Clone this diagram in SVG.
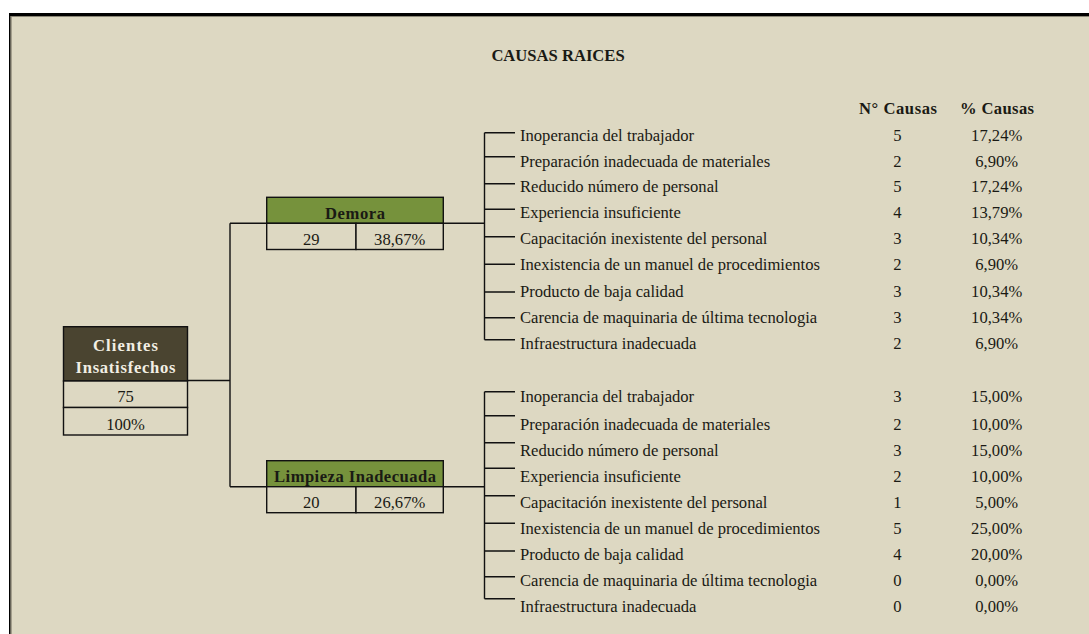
<svg xmlns="http://www.w3.org/2000/svg" width="1089" height="634" viewBox="0 0 1089 634">
  <style>
    .txt { font-family: "Liberation Serif", "Times New Roman", serif; font-size: 16.6px; fill: #1a1a14; }
    .b { font-weight: bold; }
    .c { text-anchor: middle; }
    .light { fill: #f2efe4; }
    .cell { fill: #ddd8c2; stroke: #111; stroke-width: 1.4; }
    .head-green { fill: #76923c; stroke: #111; stroke-width: 1.4; }
    .head-dark { fill: #4a4430; stroke: #111; stroke-width: 1.4; }
    .wire { fill: none; stroke: #111; stroke-width: 1.4; }
  </style>

  <!-- sheet background and frame -->
  <rect x="0" y="0" width="1089" height="634" fill="#ffffff"/>
  <rect x="10" y="15" width="1079" height="619" fill="#ddd8c2"/>
  <line x1="9" y1="14.5" x2="1089" y2="14.5" stroke="#000" stroke-width="3"/>
  <line x1="9.8" y1="13" x2="9.8" y2="634" stroke="#000" stroke-width="1.6"/>
  <line x1="11" y1="16.5" x2="1089" y2="16.5" stroke="#8a8676" stroke-width="1"/>
  <line x1="11.2" y1="16" x2="11.2" y2="634" stroke="#8a8676" stroke-width="1"/>

  <text class="txt b c" x="558" y="61">CAUSAS RAICES</text>

  <!-- connectors -->
  <g id="connectors">
    <path class="wire" d="M187.7 380.5 H230 M230 223.3 V486.7 M230 223.3 H484.5 M230 486.7 H484.5"/>
    <path class="wire" d="M484.5 132.7 V339.7
      M484.5 132.7 H515 M484.5 156.7 H515 M484.5 183.7 H515 M484.5 209.3 H515 M484.5 236.7 H515
      M484.5 264.3 H515 M484.5 292 H515 M484.5 317.7 H515 M484.5 339.7 H515"/>
    <path class="wire" d="M484.5 391.7 V598.7
      M484.5 391.7 H515 M484.5 415.7 H515 M484.5 442.7 H515 M484.5 468.3 H515 M484.5 495.7 H515
      M484.5 523.3 H515 M484.5 551 H515 M484.5 576.7 H515 M484.5 598.7 H515"/>
  </g>

  <!-- root node -->
  <g id="clientes">
    <rect class="head-dark" x="63.5" y="326.7" width="124" height="54.3"/>
    <rect class="cell" x="63.5" y="381" width="124" height="26.5"/>
    <rect class="cell" x="63.5" y="407.5" width="124" height="27.5"/>
    <text class="txt b c light" x="125.5" y="350.5" textLength="65" lengthAdjust="spacing">Clientes</text>
    <text class="txt b c light" x="125.5" y="373" textLength="100" lengthAdjust="spacing">Insatisfechos</text>
    <text class="txt c" x="125.5" y="401.5">75</text>
    <text class="txt c" x="125.5" y="429.5">100%</text>
  </g>

  <!-- first branch -->
  <g id="demora">
    <rect class="head-green" x="266.7" y="197.3" width="176.6" height="26"/>
    <rect class="cell" x="266.7" y="223.3" width="89.3" height="26.2"/>
    <rect class="cell" x="356" y="223.3" width="87.3" height="26.2"/>
    <text class="txt b c" x="355" y="219" textLength="60" lengthAdjust="spacing">Demora</text>
    <text class="txt c" x="311.3" y="245">29</text>
    <text class="txt c" x="399.7" y="245">38,67%</text>
  </g>

  <!-- second branch -->
  <g id="limpieza">
    <rect class="head-green" x="266.7" y="460.7" width="176.6" height="26"/>
    <rect class="cell" x="266.7" y="486.7" width="89.3" height="26"/>
    <rect class="cell" x="356" y="486.7" width="87.3" height="26"/>
    <text class="txt b c" x="355" y="482" textLength="162" lengthAdjust="spacing">Limpieza Inadecuada</text>
    <text class="txt c" x="311.3" y="507.5">20</text>
    <text class="txt c" x="399.7" y="507.5">26,67%</text>
  </g>

  <!-- column headers -->
  <g id="headers">
    <text class="txt b c" x="898" y="114" textLength="78" lengthAdjust="spacing">N° Causas</text>
    <text class="txt b c" x="997" y="114" textLength="74" lengthAdjust="spacing">% Causas</text>
  </g>

  <!-- causes of Demora -->
  <g id="causas-demora" class="txt">
    <text x="520" y="140.5">Inoperancia del trabajador</text>
    <text x="520" y="166.5">Preparación inadecuada de materiales</text>
    <text x="520" y="192.2">Reducido número de personal</text>
    <text x="520" y="218.2">Experiencia insuficiente</text>
    <text x="520" y="243.8">Capacitación inexistente del personal</text>
    <text x="520" y="270">Inexistencia de un manuel de procedimientos</text>
    <text x="520" y="296.5">Producto de baja calidad</text>
    <text x="520" y="322.5">Carencia de maquinaria de última tecnologia</text>
    <text x="520" y="349">Infraestructura inadecuada</text>
  </g>
  <g id="valores-demora" class="txt c">
    <text x="897.3" y="140.5">5</text><text x="996.7" y="140.5">17,24%</text>
    <text x="897.3" y="166.5">2</text><text x="996.7" y="166.5">6,90%</text>
    <text x="897.3" y="192.2">5</text><text x="996.7" y="192.2">17,24%</text>
    <text x="897.3" y="218.2">4</text><text x="996.7" y="218.2">13,79%</text>
    <text x="897.3" y="243.8">3</text><text x="996.7" y="243.8">10,34%</text>
    <text x="897.3" y="270">2</text><text x="996.7" y="270">6,90%</text>
    <text x="897.3" y="296.5">3</text><text x="996.7" y="296.5">10,34%</text>
    <text x="897.3" y="322.5">3</text><text x="996.7" y="322.5">10,34%</text>
    <text x="897.3" y="349">2</text><text x="996.7" y="349">6,90%</text>
  </g>

  <!-- causes of Limpieza Inadecuada -->
  <g id="causas-limpieza" class="txt">
    <text x="520" y="402.2">Inoperancia del trabajador</text>
    <text x="520" y="429.5">Preparación inadecuada de materiales</text>
    <text x="520" y="455.5">Reducido número de personal</text>
    <text x="520" y="481.5">Experiencia insuficiente</text>
    <text x="520" y="507.8">Capacitación inexistente del personal</text>
    <text x="520" y="533.8">Inexistencia de un manuel de procedimientos</text>
    <text x="520" y="559.8">Producto de baja calidad</text>
    <text x="520" y="585.5">Carencia de maquinaria de última tecnologia</text>
    <text x="520" y="612.2">Infraestructura inadecuada</text>
  </g>
  <g id="valores-limpieza" class="txt c">
    <text x="897.3" y="402.2">3</text><text x="996.7" y="402.2">15,00%</text>
    <text x="897.3" y="429.5">2</text><text x="996.7" y="429.5">10,00%</text>
    <text x="897.3" y="455.5">3</text><text x="996.7" y="455.5">15,00%</text>
    <text x="897.3" y="481.5">2</text><text x="996.7" y="481.5">10,00%</text>
    <text x="897.3" y="507.8">1</text><text x="996.7" y="507.8">5,00%</text>
    <text x="897.3" y="533.8">5</text><text x="996.7" y="533.8">25,00%</text>
    <text x="897.3" y="559.8">4</text><text x="996.7" y="559.8">20,00%</text>
    <text x="897.3" y="585.5">0</text><text x="996.7" y="585.5">0,00%</text>
    <text x="897.3" y="612.2">0</text><text x="996.7" y="612.2">0,00%</text>
  </g>
</svg>
